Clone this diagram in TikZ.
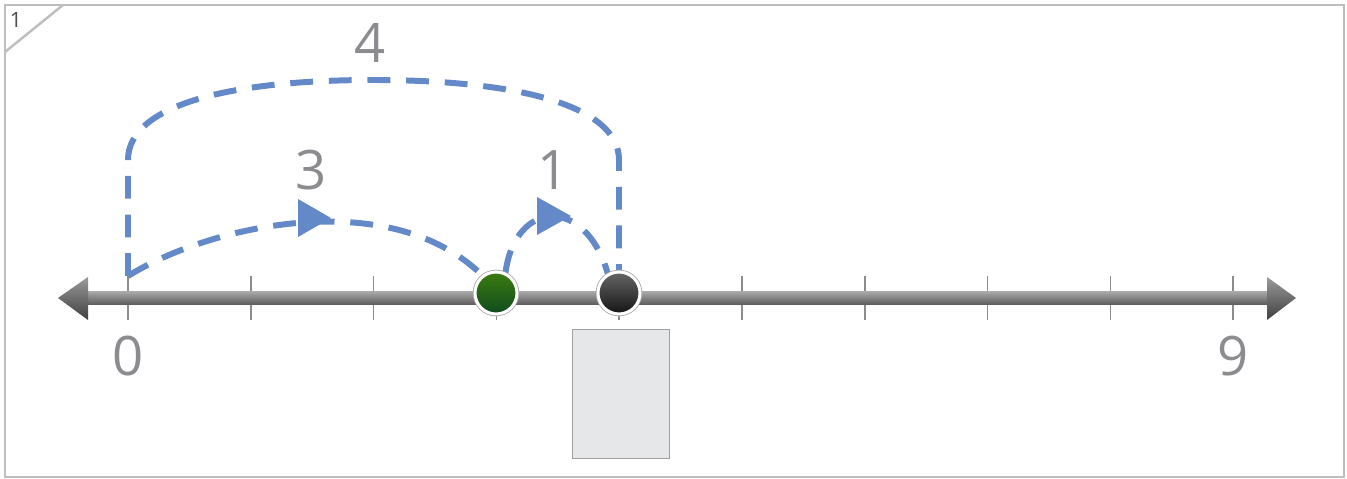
\documentclass[tikz,border=0pt]{standalone}
\usepackage{fontspec}
\setmainfont{Open Sans}
\usetikzlibrary{arrows.meta,backgrounds,positioning}

\definecolor{jumpblue}{RGB}{100,137,200}
\definecolor{numgray}{RGB}{140,140,144}
\definecolor{framegray}{RGB}{190,190,190}
\definecolor{boxfill}{RGB}{230,231,232}
\definecolor{boxline}{RGB}{160,160,160}
\definecolor{dotgreentop}{RGB}{60,125,15}
\definecolor{dotgreenbot}{RGB}{15,75,30}

\tikzset{
  jump/.style={draw=jumpblue, line width=3.4pt, dash pattern=on 13pt off 9pt},
  jumphead/.style={fill=jumpblue},
  numlbl/.style={text=numgray, font=\fontsize{31}{31}\selectfont, inner sep=0pt},
  tickmark/.style={draw=black!45, line width=0.9pt},
  dotnode/.style={circle, minimum size=0.84cm, inner sep=0pt, draw=white, line width=1.7pt, preaction={draw=black!35, line width=2.6pt}},
  ansbox/.style={draw=boxline, fill=boxfill, line width=1.1pt, minimum width=1.94cm, minimum height=2.58cm, inner sep=0pt},
  outerframe/.style={draw=framegray, line width=1.4pt}
}

\begin{document}
\begin{tikzpicture}[x=0.02cm, y=-0.02cm]
\useasboundingbox (0,0) rectangle (1347,479);
\draw[outerframe] (5,5) rectangle (1344,477);
\draw[outerframe] (5,52) -- (63,5); %corner tag
\node[text=black!70, font=\fontsize{12}{12}\selectfont, inner sep=0pt] (qnum) at (16,20) {1};

%number line
\foreach \i in {0,...,9}
  \coordinate (t\i) at (128+122.8*\i, 298);
\foreach \i in {0,...,9}
  \draw[tickmark] (t\i) ++(0,-22) -- ++(0,44);
\coordinate (lineL) at (58,298);
\coordinate (lineR) at (1296,298);
\shade[top color=black!35, bottom color=black!65] (88,292) rectangle (1267,305);
\shade[top color=black!40, bottom color=black!75] (lineL) -- (88,277) -- (88,320) -- cycle;
\shade[top color=black!40, bottom color=black!75] (lineR) -- (1267,277) -- (1267,320) -- cycle;

\node[ansbox] (answer) at (621,394) {};

\coordinate (jumpstart) at (128,276);
\node[dotnode, top color=dotgreentop, bottom color=dotgreenbot] (gdot) at (496,293) {};
\node[dotnode, top color=black!60, bottom color=black!92] (bdot) at (619,293) {};

%jumps
\begin{scope}[on background layer]
\draw[jump] (jumpstart) .. controls (210,225) and (390,185) .. (gdot.128);
\draw[jump] (gdot.65) .. controls (515,200) and (585,195) .. (bdot.120);
\draw[jump] (jumpstart) -- (128,160) .. controls (128,105) and (230,80) .. (373,80)
  .. controls (516,80) and (619,105) .. (619,160) -- (bdot.north);
\end{scope}
\coordinate (tip3) at (331,218);
\coordinate (tip1) at (571,216);
\fill[jumphead] (tip3) -- ++(-33,-19) -- ++(0,38) -- cycle;
\fill[jumphead] (tip1) -- ++(-34,-19) -- ++(0,38) -- cycle;

\node[numlbl] (lbl0) at (128,356) {0};
\node[numlbl] (lbl9) at (1233,356) {9};
\node[numlbl] (jmp3) at (311,170) {3};
\node[numlbl] (jmp1) at (553,170) {1};
\node[numlbl] (jmp4) at (370,43) {4};
\end{tikzpicture}
\end{document}
